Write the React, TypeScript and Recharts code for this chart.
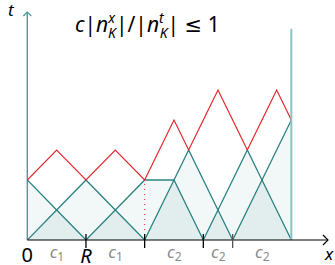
import React from "react";
import {
  ComposedChart,
  Line,
  Area,
  XAxis,
  YAxis,
  ReferenceLine,
  ReferenceDot,
} from "recharts";

const N = null;
// node positions along x
const xs = [0, 2, 4, 6, 8, 10, 11, 12, 13, 14, 15, 16, 17, 18];
// hat (basis) functions, null outside their support
const hat1 = [4, 2, 0, N, N, N, N, N, N, N, N, N, N, N];
const hat2 = [0, 2, 4, 2, 0, N, N, N, N, N, N, N, N, N];
const hat3 = [N, N, 0, 2, 4, 4, 2, 0, N, N, N, N, N, N];
const hat4 = [N, N, N, N, 0, 4, 6, 4, 2, 0, N, N, N, N];
const hat5 = [N, N, N, N, N, N, N, 0, 2, 4, 6, 4, 2, 0];
const hat6 = [N, N, N, N, N, N, N, N, N, 0, 2, 4, 6, 8];
// red ratio curve
const ratio = [4, 6, 4, 6, 4, 8, 6, 8, 10, 8, 6, 8, 10, 8];
// envelopes for shading
const upper = [4, 2, 4, 2, 4, 4, 6, 4, 2, 4, 6, 4, 6, 8];
const lower = [0, 2, 0, 2, 0, 4, 2, 0, 2, 0, 2, 4, 2, 0];

// axis annotations
const labelXs = [0, 2, 4, 6, 10, 13, 16, 20.5];
const labelTexts = ["0", "c1", "R", "c1", "c2", "c2", "c2", "x"];
const tickMarkXs = [4, 8, 12, 14];
const xMax = 20.5;
const yMax = 15.2;
const domainEnd = 18;
const domainTop = 14.07;
const splitX = 8;
const splitY = 4;

const hats = [hat1, hat2, hat3, hat4, hat5, hat6];
const data = xs.map((x, i) => {
  const row: Record<string, number | null> = { x };
  hats.forEach((h, k) => (row["h" + (k + 1)] = h[i]));
  row.ratio = ratio[i];
  row.upper = upper[i];
  row.lower = lower[i];
  return row;
});

const allTicks = Array.from(new Set([...labelXs, ...tickMarkXs])).sort((a, b) => a - b);

const TEAL = "#2c8282";
const RED = "#e3262b";
const FONT = "'Noto Sans', 'DejaVu Sans', sans-serif";

function AxisTick(props: any) {
  const { x, y, payload } = props;
  const v = payload.value;
  const li = labelXs.indexOf(v);
  const hasMark = tickMarkXs.includes(v);
  const ay = y;
  let label: React.ReactNode = null;
  if (li >= 0) {
    const t = labelTexts[li];
    if (t === "0") {
      label = (
        <text x={x} y={ay + 22} textAnchor="middle" fontSize={20} fontFamily={FONT} fill="#000">
          0
        </text>
      );
    } else if (t === "R") {
      label = (
        <text x={x} y={ay + 23} textAnchor="middle" fontSize={20} fontStyle="italic" fontFamily={FONT} fill="#000">
          R
        </text>
      );
    } else if (t === "x") {
      label = (
        <text x={x + 1} y={ay + 20} textAnchor="middle" fontSize={17} fontStyle="italic" fontFamily={FONT} fill="#000">
          x
        </text>
      );
    } else {
      label = (
        <text x={x - 7} y={ay + 18} fontSize={17} fontFamily={FONT} fill="#8a8a8a">
          <tspan fontStyle="italic">{t[0]}</tspan>
          <tspan fontSize={12} dy={3}>{t.slice(1)}</tspan>
        </text>
      );
    }
  }
  return (
    <g>
      {hasMark && (
        <line x1={x} x2={x} y1={ay - 6} y2={ay + 8} stroke={v === 14 ? "#555" : "#000"} strokeWidth={1.3} />
      )}
      {label}
    </g>
  );
}

const RightArrow = (p: any) => (
  <path d={`M${p.cx - 5},${p.cy - 5} L${p.cx},${p.cy} L${p.cx - 5},${p.cy + 5}`} fill="none" stroke="#000" strokeWidth={1.2} />
);
const UpArrow = (p: any) => (
  <path d={`M${p.cx - 4},${p.cy + 4} L${p.cx},${p.cy} L${p.cx + 4},${p.cy + 4}`} fill="none" stroke="#4f9a9a" strokeWidth={1.2} />
);

export default function App() {
  return (
    <div style={{ position: "absolute", left: 0, top: 0, width: 335, height: 265 }}>
      <ComposedChart
        width={335}
        height={265}
        data={data}
        margin={{ top: 12, left: 27.3, right: 7, bottom: 0 }}
      >
        <XAxis
          dataKey="x"
          type="number"
          domain={[0, xMax]}
          ticks={allTicks}
          interval={0}
          tickLine={false}
          tickSize={0}
          tickMargin={0}
          height={25}
          axisLine={{ stroke: "#000", strokeWidth: 1.2 }}
          tick={<AxisTick />}
          allowDataOverflow
        />
        <YAxis type="number" domain={[0, yMax]} hide allowDataOverflow />
        <Area dataKey="upper" type="linear" stroke="none" fill="#f2f7f7" fillOpacity={1} isAnimationActive={false} />
        <Area dataKey="lower" type="linear" stroke="none" fill="#e2eded" fillOpacity={1} isAnimationActive={false} />
        <ReferenceLine x={0} stroke="#4f9a9a" strokeWidth={1.4} />
        <ReferenceLine
          segment={[{ x: splitX, y: 0 }, { x: splitX, y: splitY }]}
          stroke={RED}
          strokeWidth={1}
          strokeDasharray="1 4"
        />
        {["h1", "h2", "h3", "h4", "h5", "h6"].map((k) => (
          <Line
            key={k}
            dataKey={k}
            type="linear"
            stroke={TEAL}
            strokeWidth={1.3}
            dot={false}
            connectNulls={false}
            isAnimationActive={false}
          />
        ))}
        <Line dataKey="ratio" type="linear" stroke={RED} strokeWidth={1.2} dot={false} isAnimationActive={false} />
        <ReferenceLine
          segment={[{ x: domainEnd, y: 0 }, { x: domainEnd, y: domainTop }]}
          stroke="#8cc2c2"
          strokeWidth={2}
        />
        <ReferenceDot x={xMax} y={0} r={5} ifOverflow="visible" shape={RightArrow} />
        <ReferenceDot x={0} y={yMax} r={5} ifOverflow="visible" shape={UpArrow} />
      </ComposedChart>
      <svg width={335} height={265} style={{ position: "absolute", left: 0, top: 0, pointerEvents: "none" }}>
        <text x={8} y={16} fontSize={17} fontStyle="italic" fontFamily={FONT} fill="#000">
          t
        </text>
        <text x={75} y={32} fontSize={21} fontFamily={FONT} fill="#000">
          <tspan fontStyle="italic">c</tspan>
          <tspan>|</tspan>
          <tspan fontStyle="italic">n</tspan>
          <tspan fontSize={14} fontStyle="italic" dy={-9}>x</tspan>
          <tspan fontSize={14} fontStyle="italic" dx={-7} dy={15}>K</tspan>
          <tspan dy={-6}>|/|</tspan>
          <tspan fontStyle="italic">n</tspan>
          <tspan fontSize={14} fontStyle="italic" dy={-9}>t</tspan>
          <tspan fontSize={14} fontStyle="italic" dx={-4} dy={15}>K</tspan>
          <tspan dy={-6}>| ≤ 1</tspan>
        </text>
      </svg>
    </div>
  );
}
